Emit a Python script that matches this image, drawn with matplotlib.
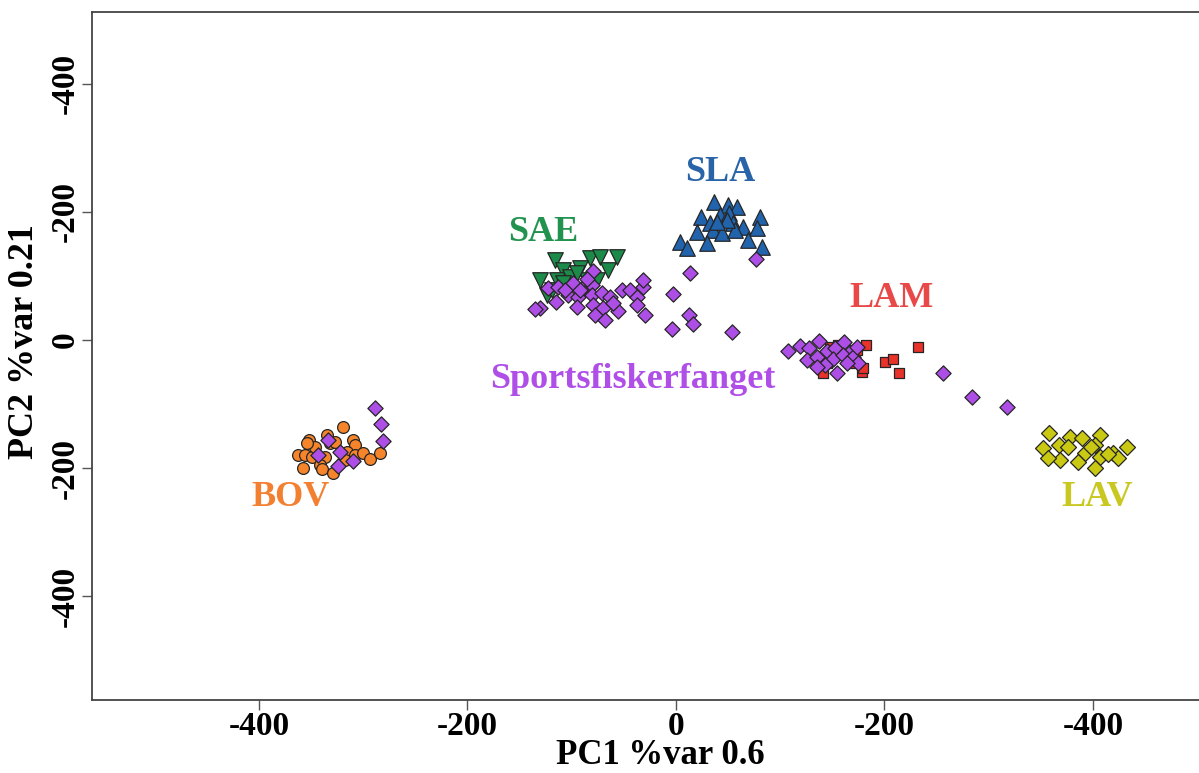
import matplotlib
matplotlib.use('Agg')
import matplotlib.pyplot as plt

# PCA scores per group
bov_x = [-351.7, -335.1, -319.1, -309.5, -307.9, -362.3, -355.9, -349.4, -336.7, -331.9, -327.1, -315.9,
         -307.9, -299.9, -293.5, -283.9, -357.5, -341.5, -339.9, -328.7, -317.5, -346.3, -354.2]
bov_y = [-156.0, -148.2, -135.3, -156.0, -163.8, -179.4, -179.4, -183.0, -182.1, -161.2, -158.7, -174.3,
         -179.4, -176.8, -185.6, -176.8, -200.2, -195.0, -201.7, -208.0, -187.2, -166.5, -161.2]

lam_x = [182.0, 232.4, 200.5, 208.4, 213.9, 141.3, 178.1, 173.3, 147.7, 155.7, 179.7, 166.9, 144.6]
lam_y = [-7.8, -10.5, -33.9, -30.1, -51.9, -51.9, -49.5, -15.6, -10.5, -7.8, -44.1, -36.3, -36.3]

sae_x = [-116.1, -82.5, -72.9, -56.9, -108.1, -92.1, -64.9, -130.5, -114.4, -101.7, -85.7, -76.1,
         -124.0, -119.2, -95.3, -108.1]
sae_y = [124.8, 127.5, 130.0, 130.0, 109.2, 111.9, 109.2, 93.6, 93.6, 98.8, 93.6, 93.6,
         70.2, 78.0, 104.1, 88.5]

sla_x = [36.7, 50.2, 58.2, 24.0, 42.2, 51.1, 80.6, 32.6, 55.0, 64.6, 77.4, 19.9, 35.8, 43.8, 56.6,
         3.8, 29.4, 10.3, 69.4, 82.2, 48.6, 39.0]
sla_y = [215.8, 210.6, 208.0, 192.3, 195.0, 197.7, 192.3, 182.1, 182.1, 176.8, 174.3, 169.0, 171.6,
         166.5, 171.6, 153.2, 150.9, 143.1, 156.0, 145.6, 187.2, 184.6]

lav_x = [358.1, 352.3, 367.7, 377.9, 389.2, 406.7, 401.9, 419.5, 432.3, 424.3, 406.7, 392.3, 385.9,
         368.3, 357.1, 401.9, 414.7, 398.1, 375.7]
lav_y = [-144.6, -169.0, -163.8, -150.9, -153.4, -148.2, -163.8, -176.8, -166.5, -184.6, -182.1,
         -176.8, -189.9, -187.2, -184.6, -200.2, -177.8, -166.5, -166.5]

sport_x = [-79.3, -122.5, -112.9, -98.5, -88.9, -80.9, -103.3, -93.7, -80.9, -71.3, -63.3, -130.5,
           -135.3, -95.3, -79.3, -69.7, -55.3, -77.7, -68.1, -52.1, -44.1, -37.7, -31.9, -31.4,
           -37.7, -29.7, 13.4, -2.6, -4.1, 12.8, 16.6, 54.0, 76.7, -92.1, -106.5, -115.0, -60.0, -85.0,
           107.7, 118.9, 127.9, 137.5, 125.4, 135.0, 145.1, 152.5, 161.4, 166.9, 150.9, 159.9, 170.1,
           174.9, 154.1, 142.9, 135.0, 163.7, 173.3, 256.4, 284.2, 317.2,
           -288.7, -283.0, -281.3, -333.5, -343.1, -322.3, -309.5, -323.9]
sport_y = [108.1, 80.7, 82.2, 88.5, 80.7, 85.8, 70.2, 67.6, 70.2, 73.8, 67.6, 49.5,
           47.9, 52.0, 54.6, 49.5, 45.7, 39.0, 31.2, 78.0, 78.0, 67.6, 83.2, 93.6,
           54.6, 39.0, 105.0, 71.8, 16.7, 39.0, 25.0, 12.5, 126.8, 78.0, 78.0, 60.0, 58.0, 95.0,
           -16.7, -9.4, -12.9, -1.1, -31.2, -27.0, -16.7, -12.9, -2.7, -18.3, -30.1, -23.4, -26.1,
           -36.3, -51.0, -39.0, -42.6, -36.3, -10.5, -51.0, -89.4, -104.0,
           -106.6, -131.0, -157.6, -156.0, -179.4, -174.3, -188.3, -196.6]

ticks = [-400, -200, 0, 200, 400]
tick_labels = ['-400', '-200', '0', '-200', '-400']

plt.rcParams['font.family'] = ['Liberation Serif', 'DejaVu Serif']
plt.rcParams['font.weight'] = 'bold'

fig = plt.figure(figsize=(11.99, 7.73), dpi=100)
ax = fig.add_axes([92 / 1199, 73 / 773, 1134 / 1199, 688 / 773])

ec = '#262626'
ax.scatter(bov_x, bov_y, s=72, marker='o', c='#f5842a', edgecolors=ec, linewidths=0.9, zorder=3)
ax.scatter(lam_x, lam_y, s=62, marker='s', c='#e8322a', edgecolors=ec, linewidths=0.9, zorder=3)
ax.scatter(sae_x, sae_y, s=125, marker='v', c='#1c8a48', edgecolors=ec, linewidths=0.9, zorder=3)
ax.scatter(sla_x, sla_y, s=125, marker='^', c='#2163ad', edgecolors=ec, linewidths=0.9, zorder=3)
ax.scatter(lav_x, lav_y, s=66, marker='D', c='#c9c914', edgecolors=ec, linewidths=0.9, zorder=3)
ax.scatter(sport_x, sport_y, s=60, marker='D', c='#ad4ee6', edgecolors=ec, linewidths=0.9, zorder=4)

lab_kw = dict(fontsize=26, fontweight='bold', ha='center', va='center', zorder=5)
ax.text(42, 262, 'SLA', color='#2a64a8', **lab_kw)
ax.text(-127, 167, 'SAE', color='#22934f', **lab_kw)
ax.text(207, 65, 'LAM', color='#e84848', **lab_kw)
ax.text(-41, -62, 'Sportsfiskerfanget', color='#b04ee8', **lab_kw)
ax.text(-370, -245, 'BOV', color='#f28030', **lab_kw)
ax.text(404, -245, 'LAV', color='#c8c820', **lab_kw)

ax.set_xlim(-560.2, 527.6)
ax.set_ylim(-561.6, 511.7)
ax.set_xticks(ticks)
ax.set_xticklabels(tick_labels)
ax.set_yticks(ticks)
ax.set_yticklabels(tick_labels, rotation=90, va='center')
ax.tick_params(axis='both', labelsize=24, length=7, width=1, color='#555555', pad=1)
for sp in ax.spines.values():
    sp.set_color('#444444')
    sp.set_linewidth(1.3)

fig.text(660 / 1199, 1 - 755 / 773, 'PC1 %var 0.6', fontsize=25, fontweight='bold',
         ha='center', va='center')
fig.text(25 / 1199, 1 - 342 / 773, 'PC2 %var 0.21', fontsize=26, fontweight='bold',
         ha='center', va='center', rotation=90)

fig.savefig('out.png', dpi=100)
